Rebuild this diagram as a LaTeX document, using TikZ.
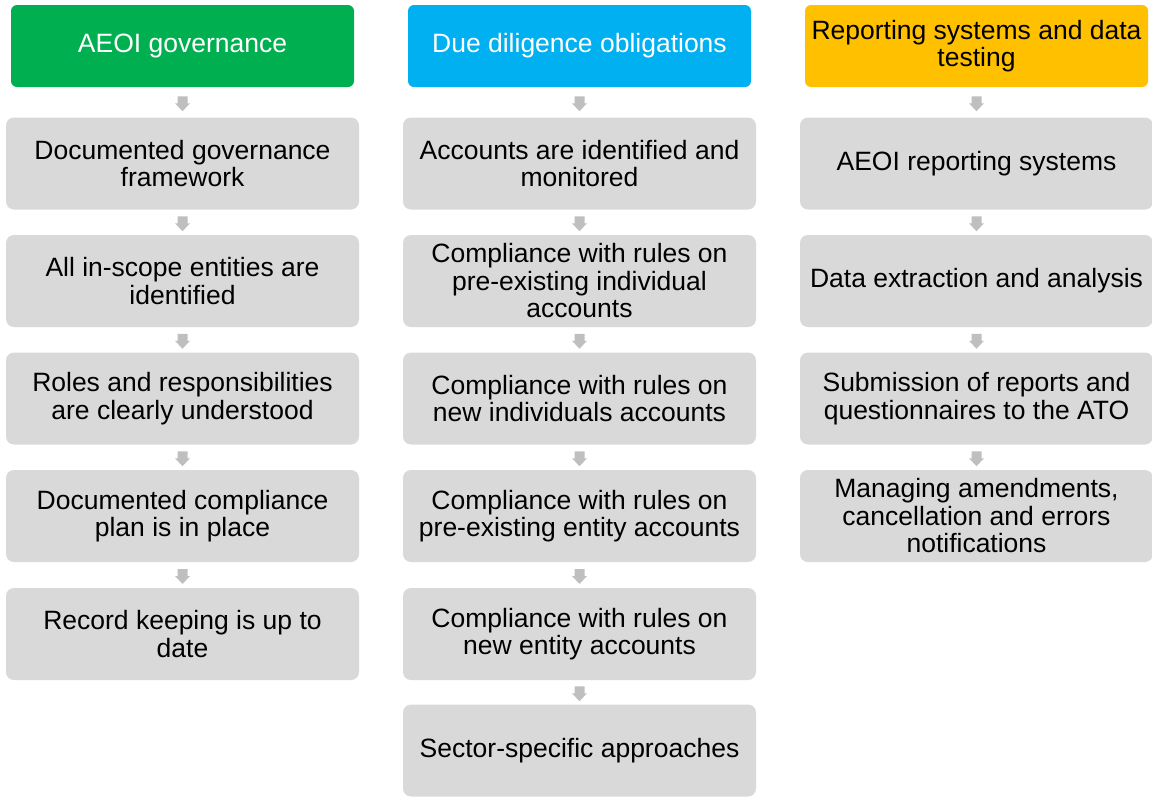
\documentclass[tikz,border=0pt]{standalone}
\usepackage{fontspec}
\setmainfont{Liberation Sans}
\usetikzlibrary{calc}
\definecolor{hgreen}{HTML}{00B050}
\definecolor{hblue}{HTML}{00B0F0}
\definecolor{hyellow}{HTML}{FFC000}
\definecolor{boxgray}{HTML}{D9D9D9}
\definecolor{arrowgray}{HTML}{BFBFBF}
\tikzset{
  head/.style={rectangle, rounded corners=6pt, minimum width=343pt, minimum height=82pt,
    inner sep=0pt, align=center, font=\fontsize{26.5}{27.5}\selectfont},
  item/.style={rectangle, rounded corners=8pt, fill=boxgray, minimum width=353pt,
    minimum height=92pt, inner sep=0pt, align=center, text=black,
    font=\fontsize{26.5}{27.5}\selectfont},
  blockarrow/.style={fill=arrowgray}
}
% small downward block arrow halfway between two boxes
\newcommand{\downarrowbetween}[2]{%
  \fill[blockarrow] ($(#1.south)!0.5!(#2.north)+(0,-6)$) ++(-5,0) -- ++(10,0) -- ++(0,7)
    -- ++(2.5,0) -- ++(-7.5,8) -- ++(-7.5,-8) -- ++(2.5,0) -- cycle;}
\begin{document}
\begin{tikzpicture}[x=1pt,y=-1pt]
\useasboundingbox (0,0) rectangle (1152,796);

% column headers
\node[head, fill=hgreen, text=white] (g0) at (182.5,46) {AEOI governance};
\node[head, fill=hblue, text=white] (d0) at (579.5,46) {Due diligence obligations};
\node[head, fill=hyellow, text=black] (r0) at (976.5,46) {Reporting systems and data\\testing};

% AEOI governance column
\node[item] (g1) at (182.5,163.5) {Documented governance\\framework};
\node[item] (g2) at (182.5,281) {All in-scope entities are\\identified};
\node[item] (g3) at (182.5,398.5) {Roles and responsibilities\\are clearly understood};
\node[item] (g4) at (182.5,516) {Documented compliance\\plan is in place};
\node[item] (g5) at (182.5,634) {Record keeping is up to\\date};

% Due diligence column
\node[item] (d1) at (579.5,163.5) {Accounts are identified and\\monitored};
\node[item] (d2) at (579.5,281) {Compliance with rules on\\pre-existing individual\\accounts};
\node[item] (d3) at (579.5,398.5) {Compliance with rules on\\new individuals accounts};
\node[item] (d4) at (579.5,516) {Compliance with rules on\\pre-existing entity accounts};
\node[item] (d5) at (579.5,634) {Compliance with rules on\\new entity accounts};
\node[item] (d6) at (579.5,750.5) {Sector-specific approaches};

% Reporting column
\node[item] (r1) at (976.5,163.5) {AEOI reporting systems};
\node[item] (r2) at (976.5,281) {Data extraction and analysis};
\node[item] (r3) at (976.5,398.5) {Submission of reports and\\questionnaires to the ATO};
\node[item] (r4) at (976.5,516) {Managing amendments,\\cancellation and errors\\notifications};

% arrows
\downarrowbetween{g0}{g1}
\downarrowbetween{g1}{g2}
\downarrowbetween{g2}{g3}
\downarrowbetween{g3}{g4}
\downarrowbetween{g4}{g5}
\downarrowbetween{d0}{d1}
\downarrowbetween{d1}{d2}
\downarrowbetween{d2}{d3}
\downarrowbetween{d3}{d4}
\downarrowbetween{d4}{d5}
\downarrowbetween{d5}{d6}
\downarrowbetween{r0}{r1}
\downarrowbetween{r1}{r2}
\downarrowbetween{r2}{r3}
\downarrowbetween{r3}{r4}
\end{tikzpicture}
\end{document}
